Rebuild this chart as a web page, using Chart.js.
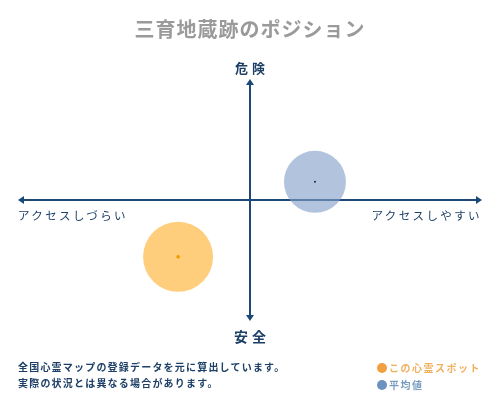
<!DOCTYPE html>
<html lang="ja">
<head>
<meta charset="utf-8">
<script src="https://cdn.jsdelivr.net/npm/chart.js@4.4.0/dist/chart.umd.min.js"></script>
<style>
  html, body { margin: 0; padding: 0; background: #fff; }
  #wrap { position: relative; width: 500px; height: 400px; font-family: "Noto Sans CJK JP", sans-serif; }
  #wrap canvas { position: absolute; left: 0; top: 0; }
  .lbl { position: absolute; white-space: nowrap; color: #1d3f66; font-weight: bold; }
  #title { left: 0; width: 500px; top: 14px; text-align: center; font-size: 20px; color: #9a9a9a; font-weight: bold; letter-spacing: 1px; }
  #top { left: 0; width: 500px; top: 58px; text-align: center; font-size: 13px; letter-spacing: 4px; text-indent: 4px; }
  #bottom { left: 0; width: 500px; top: 326px; text-align: center; font-size: 14px; letter-spacing: 4px; text-indent: 4px; }
  #left { left: 18px; top: 207px; font-size: 11.5px; letter-spacing: 2.4px; font-weight: normal; }
  #right { right: 18px; top: 207px; font-size: 11.5px; letter-spacing: 2.4px; font-weight: normal; }
  #note { left: 18px; top: 359px; font-size: 10px; line-height: 16px; letter-spacing: 1.2px; }
  #legend { left: 377px; top: 359px; font-size: 10px; line-height: 17px; letter-spacing: 1.5px; }
  .dot { display: inline-block; width: 10px; height: 10px; border-radius: 50%; margin-right: 2px; vertical-align: -1px; }
</style>
</head>
<body>
<div id="wrap">
  <canvas id="pos" width="500" height="400"></canvas>
  <div class="lbl" id="title">三育地蔵跡のポジション</div>
  <div class="lbl" id="top">危険</div>
  <div class="lbl" id="bottom">安全</div>
  <div class="lbl" id="left">アクセスしづらい</div>
  <div class="lbl" id="right">アクセスしやすい</div>
  <div class="lbl" id="note">全国心霊マップの登録データを元に算出しています。<br>実際の状況とは異なる場合があります。</div>
  <div class="lbl" id="legend">
    <span style="color:#f0b060"><span class="dot" style="background:#f0a040"></span>この心霊スポット</span><br>
    <span style="color:#7a9cc0"><span class="dot" style="background:#6b93bf"></span>平均値</span>
  </div>
</div>
<script>
// values (x: access, y: danger), range -10..10
var seriesNames = ['この心霊スポット', '平均値'];
var accessValues = [-3.1, 2.8];
var dangerValues = [-4.7, 1.5];
var bubbleSizes = [35, 31];
var axisMin = -10;
var axisMax = 10;

var axisColor = '#1c4878';

// cross axes with arrow heads, drawn through the zero point of both scales
var crossAxes = {
  id: 'crossAxes',
  beforeDatasetsDraw: function (chart) {
    var ctx = chart.ctx;
    var sx = chart.scales.x, sy = chart.scales.y;
    var x0 = sx.getPixelForValue(0), y0 = sy.getPixelForValue(0);
    var l = sx.getPixelForValue(axisMin), r = sx.getPixelForValue(axisMax);
    var t = sy.getPixelForValue(axisMax), b = sy.getPixelForValue(axisMin);
    var h = 6;
    ctx.save();
    ctx.strokeStyle = axisColor;
    ctx.fillStyle = axisColor;
    ctx.lineWidth = 2;
    ctx.beginPath();
    ctx.moveTo(l + 3, y0); ctx.lineTo(r - 3, y0);
    ctx.moveTo(x0, t + 3); ctx.lineTo(x0, b - 3);
    ctx.stroke();
    function tri(ax, ay, bx, by, cx, cy) {
      ctx.beginPath(); ctx.moveTo(ax, ay); ctx.lineTo(bx, by); ctx.lineTo(cx, cy); ctx.closePath(); ctx.fill();
    }
    tri(l, y0, l + h, y0 - 4, l + h, y0 + 4);
    tri(r, y0, r - h, y0 - 4, r - h, y0 + 4);
    tri(x0, t, x0 - 4, t + h, x0 + 4, t + h);
    tri(x0, b, x0 - 4, b - h, x0 + 4, b - h);
    ctx.restore();
  }
};

function pointsFor(i, r) {
  return [{ x: accessValues[i], y: dangerValues[i], r: r }];
}

window.addEventListener('load', function () {
  var ctx = document.getElementById('pos').getContext('2d');
  new Chart(ctx, {
    type: 'bubble',
    data: {
      datasets: [{
        label: seriesNames[0] + ' center',
        data: pointsFor(0, 1.8),
        backgroundColor: '#f29a00',
        borderWidth: 0
      }, {
        label: seriesNames[1] + ' center',
        data: pointsFor(1, 1),
        backgroundColor: '#1a2a3a',
        borderWidth: 0
      }, {
        label: seriesNames[0],
        data: pointsFor(0, bubbleSizes[0]),
        backgroundColor: 'rgba(254, 190, 80, 0.75)',
        borderWidth: 0
      }, {
        label: seriesNames[1],
        data: pointsFor(1, bubbleSizes[1]),
        backgroundColor: 'rgba(130, 160, 200, 0.62)',
        borderWidth: 0
      }]
    },
    options: {
      responsive: false,
      animation: false,
      layout: { autoPadding: false, padding: { left: 18, right: 18, top: 79, bottom: 79 } },
      scales: {
        x: { type: 'linear', min: axisMin, max: axisMax, display: false },
        y: { type: 'linear', min: axisMin, max: axisMax, display: false }
      },
      plugins: {
        legend: { display: false },
        tooltip: { enabled: false }
      }
    },
    plugins: [crossAxes]
  });
});
</script>
</body>
</html>
